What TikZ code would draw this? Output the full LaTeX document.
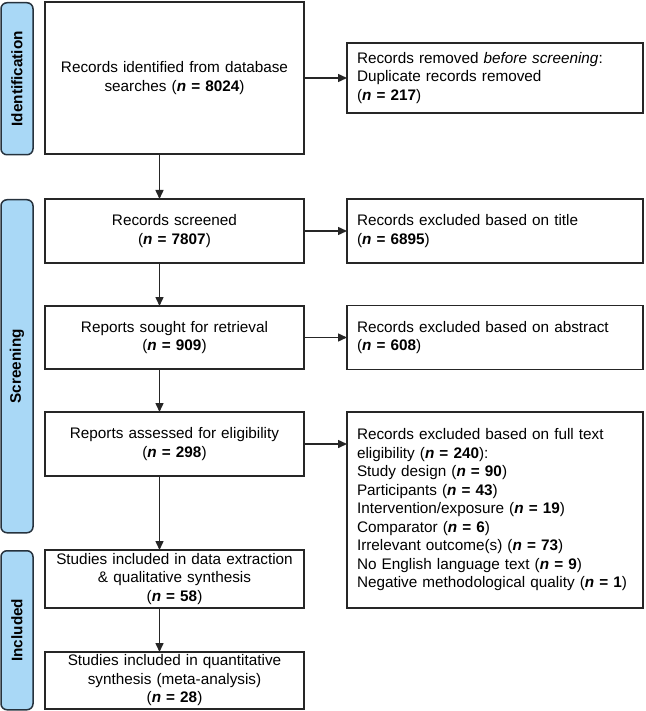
\documentclass[tikz,border=0pt]{standalone}
\usepackage{fontspec}
\setmainfont{Liberation Sans}
\usepackage{tikz}
\usetikzlibrary{arrows.meta, positioning}

\definecolor{barblue}{HTML}{A9D8F6}
\definecolor{bardark}{HTML}{26323D}
\newcommand{\ncount}[1]{\textbf{\textit{n} = #1}}

\begin{document}
\begin{tikzpicture}[
        node distance=43pt,
        font=\fontsize{15.3}{18.5}\selectfont,
        leftbox/.style={rectangle, draw=black!85, line width=1.5pt, outer sep=0pt, minimum width=259pt, text width=240pt, inner ysep=1pt, align=center},
        sidebox/.style={rectangle, draw=black!85, line width=1.5pt, outer sep=0pt, minimum width=296pt, text width=276pt, inner xsep=10pt, align=left},
        phasebar/.style={rectangle, rounded corners=6pt, draw=bardark, fill=barblue, line width=1.5pt, rotate=90, minimum height=32pt, font=\fontsize{15.3}{18.5}\selectfont\bfseries},
        arrow/.style={->, >={Triangle[length=9pt, width=8pt]}, line width=1.5pt, black!85}
    ]
        \useasboundingbox (0,0) rectangle (645pt,-711pt);

        % Left column
        \node[leftbox, minimum height=152pt] (ident) at (174.5pt,-78pt) {Records identified from database\\ searches (\ncount{8024})};
        \node[leftbox, minimum height=64pt, below=45pt of ident] (screened) {Records screened\\ (\ncount{7807})};
        \node[leftbox, minimum height=63pt, below=of screened] (sought) {Reports sought for retrieval\\ (\ncount{909})};
        \node[leftbox, minimum height=64pt, below=of sought] (assessed) {Reports assessed for eligibility\\ (\ncount{298})};
        \node[leftbox, minimum height=58pt, below=74pt of assessed] (included) {Studies included in data extraction\\ \& qualitative synthesis\\ (\ncount{58})};
        \node[leftbox, minimum height=57pt, below=44pt of included] (quant) {Studies included in quantitative\\ synthesis (meta-analysis)\\ (\ncount{28})};

        % Right column
        \node[sidebox, minimum height=70pt, right=of ident] (removed) {Records removed \textit{before screening}:\\ Duplicate records removed\\ (\ncount{217})};
        \node[sidebox, minimum height=64pt, right=of screened] (extitle) {Records excluded based on title\\ (\ncount{6895})};
        \node[sidebox, minimum height=64pt, right=of sought] (exabstract) {Records excluded based on abstract\\ (\ncount{608})};
        \node[sidebox, minimum height=196pt, anchor=north west] (exfull) at ([xshift=43pt]assessed.north east) {Records excluded based on full text\\ eligibility (\ncount{240}):\\ Study design (\ncount{90})\\ Participants (\ncount{43})\\ Intervention/exposure (\ncount{19})\\ Comparator (\ncount{6})\\ Irrelevant outcome(s) (\ncount{73})\\ No English language text (\ncount{9})\\ Negative methodological quality (\ncount{1})};

        % Phase bars
        \node[phasebar, minimum width=152pt, anchor=east] (idbar) at ([xshift=-28pt]ident.north west) {Identification};
        \node[phasebar, minimum width=333pt, anchor=east] (scrbar) at ([xshift=-28pt]screened.north west) {Screening};
        \node[phasebar, minimum width=159pt, anchor=east] (incbar) at ([xshift=-28pt]included.north west) {Included};

        % Arrows
        \draw[arrow] ([xshift=-15pt]ident.south) -- ([xshift=-15pt]screened.north);
        \draw[arrow] ([xshift=-15pt]screened.south) -- ([xshift=-15pt]sought.north);
        \draw[arrow] ([xshift=-15pt]sought.south) -- ([xshift=-15pt]assessed.north);
        \draw[arrow] ([xshift=-15pt]assessed.south) -- ([xshift=-15pt]included.north);
        \draw[arrow] ([xshift=-15pt]included.south) -- ([xshift=-15pt]quant.north);

        \draw[arrow] (ident) -- (removed);
        \draw[arrow] (screened) -- (extitle);
        \draw[arrow] (sought) -- (exabstract);
        \draw[arrow] (assessed.east) -- (assessed.east -| exfull.west);

    \end{tikzpicture}
\end{document}
